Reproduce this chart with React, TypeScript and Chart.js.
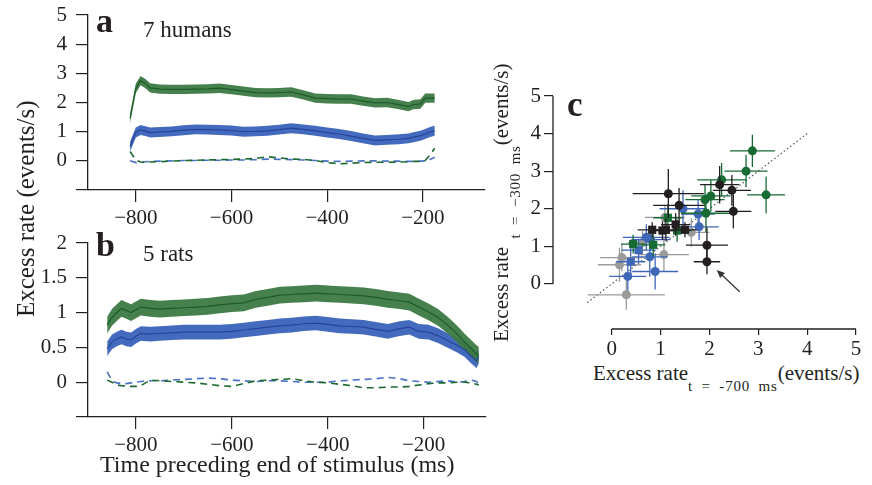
import React, { useEffect, useRef } from 'react';
import { Chart, registerables } from 'chart.js';

Chart.register(...registerables);

const SERIF = "'Liberation Serif', 'Times New Roman', Times, serif";
const INK = '#231f20';

// ---------- Panel a: 7 humans ----------
const humanTime = [-812, -800, -790, -780, -770, -750, -725, -700, -675, -650, -625, -600, -575, -550, -525, -500, -475, -450, -425, -400, -375, -350, -325, -300, -275, -250, -230, -220, -205, -195, -185, -175];
const humanGreen = [1.46, 2.49, 2.75, 2.65, 2.5, 2.46, 2.45, 2.45, 2.46, 2.47, 2.49, 2.44, 2.39, 2.34, 2.33, 2.34, 2.36, 2.26, 2.15, 2.13, 2.12, 2.12, 2.05, 1.99, 2.0, 1.93, 1.86, 1.93, 1.95, 2.15, 2.15, 2.15];
const humanBlue = [0.49, 0.97, 1.06, 1.02, 0.97, 0.99, 1.01, 1.05, 1.08, 1.07, 1.06, 1.04, 1.0, 1.01, 1.03, 1.07, 1.12, 1.08, 1.03, 0.97, 0.92, 0.85, 0.77, 0.7, 0.72, 0.74, 0.77, 0.81, 0.86, 0.92, 0.99, 1.03];
const humanGreenDash = [0.32, 0.03, -0.04, -0.05, -0.04, -0.03, -0.01, 0.01, 0.02, 0.03, 0.04, 0.05, 0.06, 0.08, 0.14, 0.1, 0.06, 0.05, 0.01, -0.06, -0.1, -0.08, -0.06, -0.05, -0.05, -0.04, -0.03, -0.02, -0.02, 0.01, 0.2, 0.43];
const humanBlueDash = [0.0, -0.06, -0.05, -0.03, -0.02, -0.01, 0.0, 0.01, 0.01, 0.02, 0.02, 0.03, 0.03, 0.04, 0.06, 0.05, 0.04, 0.03, 0.01, -0.01, -0.02, -0.01, 0.0, 0.0, -0.01, -0.01, -0.02, -0.02, -0.01, 0.0, 0.05, 0.12];
const humanGreenHalfBand = 0.16;
const humanBlueHalfBand = 0.17;
const humanYTicks = [-1, 0, 1, 2, 3, 4, 5];

// ---------- Panel b: 5 rats ----------
const ratTime = [-860, -850, -840, -830, -820, -810, -800, -790, -770, -750, -725, -700, -675, -650, -625, -600, -575, -550, -525, -500, -475, -450, -425, -400, -375, -350, -325, -300, -275, -250, -230, -210, -190, -170, -150, -130, -115, -100, -90, -85];
const ratGreen = [0.82, 0.93, 1.0, 1.06, 1.03, 1.0, 1.04, 1.08, 1.06, 1.05, 1.06, 1.07, 1.08, 1.09, 1.11, 1.13, 1.14, 1.19, 1.22, 1.25, 1.26, 1.27, 1.28, 1.27, 1.26, 1.25, 1.24, 1.22, 1.19, 1.17, 1.15, 1.08, 1.01, 0.93, 0.82, 0.69, 0.58, 0.48, 0.41, 0.39];
const ratBlue = [0.48, 0.58, 0.62, 0.65, 0.62, 0.61, 0.66, 0.7, 0.69, 0.7, 0.71, 0.72, 0.72, 0.72, 0.72, 0.73, 0.75, 0.77, 0.79, 0.81, 0.82, 0.84, 0.85, 0.83, 0.81, 0.8, 0.79, 0.76, 0.73, 0.77, 0.79, 0.73, 0.72, 0.67, 0.6, 0.53, 0.47, 0.37, 0.31, 0.37];
const ratGreenDash = [0.03, 0.0, -0.04, -0.05, -0.06, -0.06, -0.06, -0.05, 0.03, 0.02, 0.01, 0.0, -0.01, -0.03, -0.05, -0.06, -0.02, 0.02, 0.03, 0.04, 0.05, 0.02, 0.0, -0.01, -0.03, -0.05, -0.08, -0.08, -0.07, -0.07, -0.06, -0.04, -0.02, -0.01, -0.01, 0.0, 0.0, -0.01, -0.03, -0.04];
const ratBlueDash = [0.15, 0.02, -0.01, -0.02, -0.02, -0.01, 0.0, 0.01, 0.02, 0.02, 0.03, 0.04, 0.05, 0.06, 0.05, 0.03, 0.02, 0.01, 0.02, 0.02, 0.01, 0.0, 0.0, 0.0, 0.02, 0.03, 0.04, 0.05, 0.07, 0.05, 0.02, 0.01, 0.0, 0.01, 0.02, 0.0, 0.01, 0.03, 0.01, -0.03];
const ratGreenHalfBand = 0.12;
const ratBlueHalfBand = 0.105;
const ratYTicks = [-0.5, 0, 0.5, 1, 1.5, 2];

const timeTicks = [-800, -600, -400, -200];

// ---------- Panel c: [x, y, xErr, yErr] ----------
const grayCircles = [
  [0.3, -0.29, 0.79, 0.4],
  [0.16, 0.51, 0.44, 0.45],
  [0.21, 0.7, 0.45, 0.36],
  [1.07, 0.78, 0.51, 0.45],
  [0.63, 1.1, 0.3, 0.3],
  [1.63, 1.37, 0.37, 0.38],
  [1.09, 1.77, 0.41, 0.3],
];
const blueCircles = [
  [0.33, 0.2, 0.38, 0.38],
  [0.89, 0.33, 0.47, 0.48],
  [0.78, 0.72, 0.36, 0.53],
  [0.71, 1.24, 0.48, 0.35],
  [0.8, 1.18, 0.4, 0.3],
  [1.79, 1.52, 0.4, 0.35],
  [1.77, 1.86, 0.35, 0.4],
  [1.46, 2.0, 0.48, 0.49],
];
const blueSquares = [
  [0.39, 0.59, 0.3, 0.45],
  [0.55, 0.9, 0.35, 0.3],
];
const greenSquares = [
  [0.44, 1.06, 0.25, 0.25],
  [0.85, 1.04, 0.25, 0.3],
  [1.34, 1.42, 0.3, 0.3],
  [1.15, 1.76, 0.3, 0.35],
];
const greenCircles = [
  [1.93, 1.88, 0.51, 0.5],
  [1.91, 2.24, 0.4, 0.4],
  [2.03, 2.34, 0.4, 0.42],
  [2.25, 2.77, 0.5, 0.45],
  [3.16, 2.37, 0.39, 0.49],
  [2.75, 3.0, 0.44, 0.43],
  [2.88, 3.54, 0.46, 0.43],
];
const blackSquares = [
  [0.83, 1.44, 0.3, 0.2],
  [1.04, 1.42, 0.25, 0.25],
  [1.11, 1.44, 0.25, 0.3],
  [1.31, 1.58, 0.3, 0.3],
  [1.5, 1.44, 0.24, 0.2],
];
const blackCircles = [
  [1.95, 0.59, 0.27, 0.33],
  [1.95, 1.03, 0.43, 0.47],
  [2.49, 1.93, 0.37, 0.45],
  [2.46, 2.49, 0.39, 0.41],
  [2.21, 2.64, 0.4, 0.5],
  [1.38, 2.09, 0.53, 0.46],
  [1.16, 2.4, 0.73, 0.66],
];
const identityX = [-0.5, 4];
const identityY = [-0.5, 4];
const arrowTail = [2.62, -0.21];
const arrowHead = [2.15, 0.37];
const scatterTicks = [0, 1, 2, 3, 4, 5];

// ---------- colours ----------
const GREEN_BAND = 'rgba(60, 121, 66, 0.95)';
const GREEN_LINE = '#1b5c2a';
const BLUE_BAND = 'rgba(58, 98, 186, 0.95)';
const BLUE_LINE = '#26459a';
const GREEN_DASH = '#1d6a30';
const BLUE_DASH = '#4a72c4';
const C_GREEN = '#176b33';
const C_BLUE = '#3f67b7';
const C_GRAY = '#9b9b9b';
const C_BLACK = '#231f20';

const pts = (t: number[], v: number[], d = 0) => t.map((x, i) => ({ x, y: v[i] + d }));
const fmt = (v: number) => (v < 0 ? '\u2212' + Math.abs(v) : String(v));
const fixTicks = (vals: number[]) => (scale: any) => {
  scale.ticks = vals.map((value) => ({ value }));
};
const fixSize = (prop: 'width' | 'height', size: number) => (scale: any) => {
  scale[prop] = size;
  scale.paddingLeft = 0;
  scale.paddingRight = 0;
  scale.paddingTop = 0;
  scale.paddingBottom = 0;
};

function band(t: number[], v: number[], half: number, fillColor: string, lineColor: string, bandOrder: number, lineOrder: number) {
  return [
    { data: pts(t, v, half), fill: '+1', backgroundColor: fillColor, borderColor: 'rgba(0,0,0,0)', borderWidth: 1, pointRadius: 0, order: bandOrder },
    { data: pts(t, v, -half), fill: false, borderColor: 'rgba(0,0,0,0)', borderWidth: 1, pointRadius: 0, order: bandOrder },
    { data: pts(t, v), fill: false, borderColor: lineColor, borderWidth: 1.2, pointRadius: 0, order: lineOrder },
  ];
}

function dashed(t: number[], v: number[], color: string, order: number) {
  return { data: pts(t, v), fill: false, borderColor: color, borderWidth: 1.6, borderDash: [7, 5], pointRadius: 0, order };
}

function timeChart(canvas: HTMLCanvasElement, datasets: any[], yMin: number, yMax: number, yTicks: number[], padTop: number, padRight: number, xHeight: number) {
  return new Chart(canvas, {
    type: 'line',
    data: { datasets },
    options: {
      animation: false,
      responsive: false,
      devicePixelRatio: 1,
      events: [],
      layout: { padding: { top: padTop, right: padRight, bottom: 0, left: 0 } },
      plugins: { legend: { display: false }, tooltip: { enabled: false } },
      scales: {
        x: {
          type: 'linear',
          min: -900,
          max: -70,
          afterBuildTicks: fixTicks(timeTicks),
          afterFit: fixSize('height', xHeight),
          ticks: { font: { family: SERIF, size: 21 }, color: INK, padding: 4, maxRotation: 0, autoSkip: false, callback: (v: any) => fmt(Number(v)) },
          grid: { drawOnChartArea: false, drawTicks: true, tickLength: 12, color: INK, lineWidth: 1.2 },
          border: { display: true, color: INK, width: 1.3 },
        },
        y: {
          type: 'linear',
          min: yMin,
          max: yMax,
          afterBuildTicks: fixTicks(yTicks),
          afterFit: fixSize('width', 88),
          ticks: { font: { family: SERIF, size: 21 }, color: INK, padding: 9, autoSkip: false, callback: (v: any) => (Number(v) === yMin ? '' : fmt(Number(v))) },
          grid: { drawOnChartArea: false, drawTicks: true, tickLength: 12, color: INK, lineWidth: 1.2 },
          border: { display: true, color: INK, width: 1.3 },
        },
      },
    } as any,
  });
}

const errorBarPlugin = {
  id: 'errorBars',
  beforeDatasetDraw(chart: any, args: any) {
    const ds: any = chart.data.datasets[args.index];
    if (!ds.errs) return;
    const xs = chart.scales.x;
    const ys = chart.scales.y;
    const ctx = chart.ctx;
    ctx.save();
    ctx.strokeStyle = ds.barColor;
    ctx.lineWidth = 1.3;
    ds.errs.forEach((e: number[], i: number) => {
      const p = ds.data[i];
      const px = xs.getPixelForValue(p.x);
      const py = ys.getPixelForValue(p.y);
      ctx.beginPath();
      ctx.moveTo(xs.getPixelForValue(p.x - e[0]), py);
      ctx.lineTo(xs.getPixelForValue(p.x + e[0]), py);
      ctx.moveTo(px, ys.getPixelForValue(p.y - e[1]));
      ctx.lineTo(px, ys.getPixelForValue(p.y + e[1]));
      ctx.stroke();
    });
    ctx.restore();
  },
};

const scatterAxesPlugin = {
  id: 'scatterAxes',
  afterDraw(chart: any) {
    const xs = chart.scales.x;
    const ys = chart.scales.y;
    const ctx = chart.ctx;
    const { left, bottom } = chart.chartArea;
    ctx.save();
    ctx.strokeStyle = INK;
    ctx.lineWidth = 1.3;
    ctx.beginPath();
    ctx.moveTo(left, ys.getPixelForValue(scatterTicks[0]));
    ctx.lineTo(left, ys.getPixelForValue(scatterTicks[scatterTicks.length - 1]));
    ctx.moveTo(xs.getPixelForValue(scatterTicks[0]), bottom);
    ctx.lineTo(xs.getPixelForValue(scatterTicks[scatterTicks.length - 1]), bottom);
    ctx.stroke();
    // arrow
    const tx = xs.getPixelForValue(arrowTail[0]);
    const ty = ys.getPixelForValue(arrowTail[1]);
    const hx = xs.getPixelForValue(arrowHead[0]);
    const hy = ys.getPixelForValue(arrowHead[1]);
    const ang = Math.atan2(hy - ty, hx - tx);
    ctx.strokeStyle = '#333';
    ctx.fillStyle = '#333';
    ctx.lineWidth = 1.2;
    ctx.beginPath();
    ctx.moveTo(tx, ty);
    ctx.lineTo(hx - 5 * Math.cos(ang), hy - 5 * Math.sin(ang));
    ctx.stroke();
    ctx.beginPath();
    ctx.moveTo(hx, hy);
    ctx.lineTo(hx - 8 * Math.cos(ang) + 3.5 * Math.sin(ang), hy - 8 * Math.sin(ang) - 3.5 * Math.cos(ang));
    ctx.lineTo(hx - 8 * Math.cos(ang) - 3.5 * Math.sin(ang), hy - 8 * Math.sin(ang) + 3.5 * Math.cos(ang));
    ctx.closePath();
    ctx.fill();
    ctx.restore();
  },
};

function scatterSet(rows: number[][], color: string, style: string, radius: number, order: number) {
  return {
    data: rows.map((r) => ({ x: r[0], y: r[1] })),
    errs: rows.map((r) => [r[2], r[3]]),
    barColor: color,
    pointStyle: style,
    pointRadius: radius,
    pointBackgroundColor: color,
    pointBorderColor: color,
    pointBorderWidth: 0,
    showLine: false,
    order,
  };
}

function scatterChart(canvas: HTMLCanvasElement) {
  return new Chart(canvas, {
    type: 'scatter',
    data: {
      datasets: [
        scatterSet(blackSquares, C_BLACK, 'rect', 5.8, 0),
        scatterSet(blackCircles, C_BLACK, 'circle', 4.5, 0.5),
        scatterSet(greenSquares, C_GREEN, 'rect', 5.8, 1),
        scatterSet(greenCircles, C_GREEN, 'circle', 4.5, 1.5),
        scatterSet(blueSquares, C_BLUE, 'rect', 5.8, 2),
        scatterSet(blueCircles, C_BLUE, 'circle', 4.5, 2.5),
        scatterSet(grayCircles, C_GRAY, 'circle', 4.5, 3),
        {
          data: identityX.map((x, i) => ({ x, y: identityY[i] })),
          showLine: true,
          borderColor: '#555',
          borderWidth: 1.2,
          borderDash: [1.5, 2.5],
          pointRadius: 0,
          order: 10,
        },
      ] as any,
    },
    options: {
      animation: false,
      responsive: false,
      devicePixelRatio: 1,
      events: [],
      layout: { padding: { top: 36, right: 16, bottom: 0, left: 0 } },
      plugins: { legend: { display: false }, tooltip: { enabled: false } },
      scales: {
        x: {
          type: 'linear',
          min: -1.2,
          max: 5,
          afterBuildTicks: fixTicks(scatterTicks),
          afterFit: fixSize('height', 31),
          ticks: { font: { family: SERIF, size: 21 }, color: INK, padding: 2, maxRotation: 0, autoSkip: false },
          grid: { drawOnChartArea: false, drawTicks: true, tickLength: 6, color: INK, lineWidth: 1.2 },
          border: { display: false },
        },
        y: {
          type: 'linear',
          min: -1.2,
          max: 5,
          afterBuildTicks: fixTicks(scatterTicks),
          afterFit: fixSize('width', 53),
          ticks: { font: { family: SERIF, size: 21 }, color: INK, padding: 3, autoSkip: false },
          grid: { drawOnChartArea: false, drawTicks: true, tickLength: 9, color: INK, lineWidth: 1.2 },
          border: { display: false },
        },
      },
    } as any,
    plugins: [errorBarPlugin, scatterAxesPlugin],
  });
}

export default function App() {
  const refA = useRef<HTMLCanvasElement>(null);
  const refB = useRef<HTMLCanvasElement>(null);
  const refC = useRef<HTMLCanvasElement>(null);

  useEffect(() => {
    const charts = [
      timeChart(
        refA.current!,
        [
          dashed(humanTime, humanGreenDash, GREEN_DASH, 0),
          dashed(humanTime, humanBlueDash, BLUE_DASH, 1),
          ...band(humanTime, humanGreen, humanGreenHalfBand, GREEN_BAND, GREEN_LINE, 4, 2),
          ...band(humanTime, humanBlue, humanBlueHalfBand, BLUE_BAND, BLUE_LINE, 5, 3),
        ],
        -1,
        5,
        humanYTicks,
        15,
        15,
        42
      ),
      timeChart(
        refB.current!,
        [
          dashed(ratTime, ratGreenDash, GREEN_DASH, 0),
          dashed(ratTime, ratBlueDash, BLUE_DASH, 1),
          ...band(ratTime, ratGreen, ratGreenHalfBand, GREEN_BAND, GREEN_LINE, 4, 2),
          ...band(ratTime, ratBlue, ratBlueHalfBand, BLUE_BAND, BLUE_LINE, 5, 3),
        ],
        -0.5,
        2,
        ratYTicks,
        18,
        14,
        68
      ),
      scatterChart(refC.current!),
    ];
    return () => charts.forEach((c) => c.destroy());
  }, []);

  const txt = (extra: React.CSSProperties): React.CSSProperties => ({
    position: 'absolute',
    whiteSpace: 'nowrap',
    fontFamily: SERIF,
    color: INK,
    lineHeight: 1,
    margin: 0,
    ...extra,
  });

  return (
    <div style={{ position: 'absolute', left: 0, top: 0, width: 872, height: 485, overflow: 'hidden', background: '#fff' }}>
      <canvas ref={refA} width={500} height={232} style={{ position: 'absolute', left: 0, top: 0, width: 500, height: 232 }} />
      <canvas ref={refB} width={500} height={260} style={{ position: 'absolute', left: 0, top: 225, width: 500, height: 260 }} />
      <canvas ref={refC} width={372} height={300} style={{ position: 'absolute', left: 500, top: 60, width: 372, height: 300 }} />

      <div style={txt({ left: 96, top: 3.5, fontSize: 34, fontWeight: 'bold' })}>a</div>
      <div style={txt({ left: 143, top: 18.3, fontSize: 23 })}>7 humans</div>
      <div style={txt({ left: 96, top: 228, fontSize: 34, fontWeight: 'bold' })}>b</div>
      <div style={txt({ left: 143, top: 241.7, fontSize: 23 })}>5 rats</div>
      <div style={txt({ left: 567, top: 87.4, fontSize: 35, fontWeight: 'bold' })}>c</div>

      <div style={txt({ left: 13, top: 317, fontSize: 25, transform: 'rotate(-90deg)', transformOrigin: '0 0' })}>Excess rate (events/s)</div>
      <div style={txt({ left: 100, top: 452, fontSize: 24 })}>Time preceding end of stimulus (ms)</div>

      <div style={txt({ left: 593, top: 363.4, fontSize: 21 })}>
        Excess rate
        <span style={{ fontSize: 15, position: 'relative', top: 11, letterSpacing: 0.8, wordSpacing: 4 }}>t = -700 ms</span>
        (events/s)
      </div>
      <div style={txt({ left: 491.4, top: 342, fontSize: 21, transform: 'rotate(-90deg)', transformOrigin: '0 0' })}>
        Excess rate
        <span style={{ fontSize: 15, position: 'relative', top: 12, letterSpacing: 0.8, wordSpacing: 4 }}>{' t = \u2212300 ms'}</span>
        (events/s)
      </div>
    </div>
  );
}
